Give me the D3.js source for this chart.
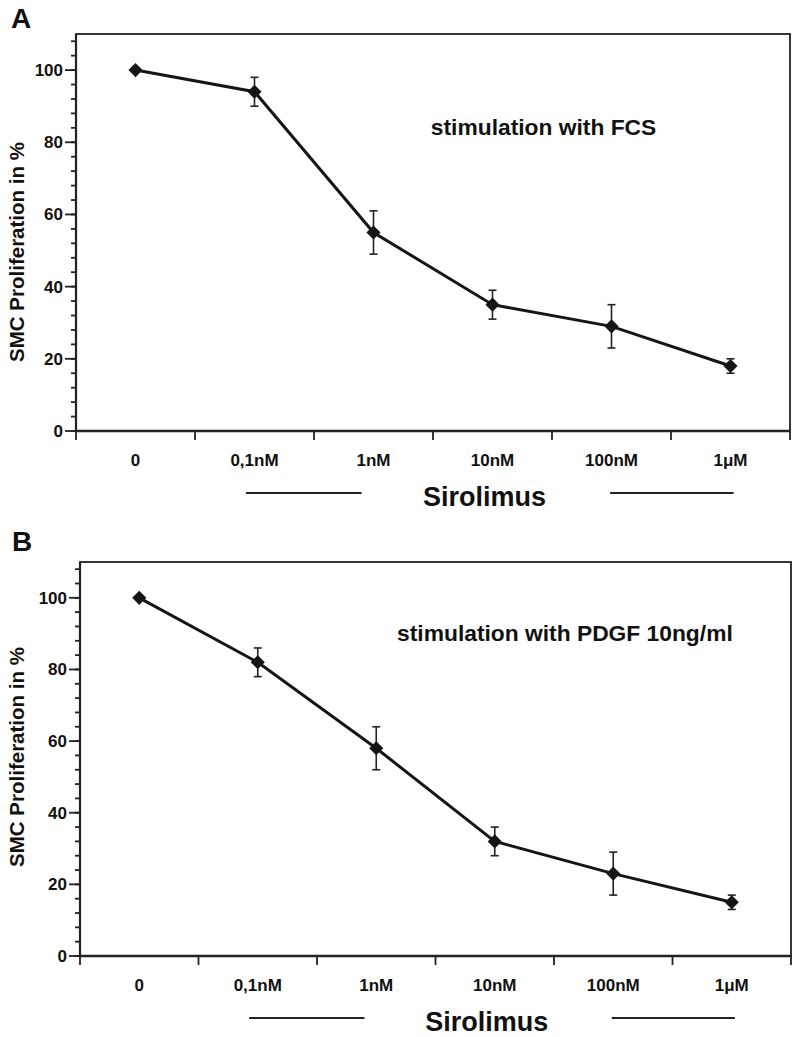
<!DOCTYPE html>
<html>
<head>
<meta charset="utf-8">
<script src="https://cdn.jsdelivr.net/npm/d3@7"></script>
<style>
  body { margin: 0; background: #fff; }
  text { font-family: "Liberation Sans", Arial, Helvetica, sans-serif; font-weight: bold; fill: #111; }
</style>
</head>
<body>
<div id="chart"></div>
<script>
// Sirolimus doses (x categories)
const doses = ["0", "0,1nM", "1nM", "10nM", "100nM", "1\u03bcM"];

// Panel A: stimulation with FCS
const fcsMean = [100, 94, 55, 35, 29, 18];
const fcsErr = [0, 4, 6, 4, 6, 2];

// Panel B: stimulation with PDGF 10ng/ml
const pdgfMean = [100, 82, 58, 32, 23, 15];
const pdgfErr = [0, 4, 6, 4, 6, 2];

const yMajorTicks = [0, 20, 40, 60, 80, 100];
const yMinorTicks = d3.range(0, 110, 4);

const width = 800, height = 1037;
const svg = d3.select("#chart").append("svg")
    .attr("width", width)
    .attr("height", height);

function drawPanel(opt) {
    const x = d3.scaleBand().domain(doses).range([opt.left, opt.right]);
    const y = d3.scaleLinear().domain([0, 110]).range([opt.bottom, opt.top]);
    const g = svg.append("g");

    // panel letter
    g.append("text")
        .attr("x", opt.letterX)
        .attr("y", opt.letterY)
        .style("font-size", "28px")
        .text(opt.letter);

    // frame
    g.append("rect")
        .attr("x", opt.left).attr("y", opt.top)
        .attr("width", opt.right - opt.left)
        .attr("height", opt.bottom - opt.top)
        .attr("fill", "none")
        .attr("stroke", "#222")
        .attr("stroke-width", 1.8);
    g.append("line")
        .attr("x1", opt.left).attr("x2", opt.right)
        .attr("y1", opt.bottom).attr("y2", opt.bottom)
        .attr("stroke", "#222").attr("stroke-width", 2.5);
    g.append("line")
        .attr("x1", opt.left).attr("x2", opt.left)
        .attr("y1", opt.top).attr("y2", opt.bottom)
        .attr("stroke", "#222").attr("stroke-width", 2.2);

    // y minor ticks
    g.selectAll(".ymin").data(yMinorTicks).enter().append("line")
        .attr("x1", opt.left - 5).attr("x2", opt.left)
        .attr("y1", d => y(d)).attr("y2", d => y(d))
        .attr("stroke", "#222").attr("stroke-width", 1.8);
    // y major ticks + labels
    g.selectAll(".ymaj").data(yMajorTicks).enter().append("line")
        .attr("x1", opt.left - 11).attr("x2", opt.left)
        .attr("y1", d => y(d)).attr("y2", d => y(d))
        .attr("stroke", "#222").attr("stroke-width", 1.8);
    g.selectAll(".ylab").data(yMajorTicks).enter().append("text")
        .attr("x", opt.left - 13)
        .attr("y", d => y(d) + 6)
        .attr("text-anchor", "end")
        .style("font-size", "17px")
        .text(d => d);

    // y title
    g.append("text")
        .attr("transform", `translate(24,${opt.yTitleY}) rotate(-90)`)
        .attr("text-anchor", "middle")
        .style("font-size", "20.5px")
        .text("SMC Proliferation in %");

    // x ticks at band edges
    const edges = doses.map(d => x(d)).concat([opt.right]);
    g.selectAll(".xt").data(edges).enter().append("line")
        .attr("x1", d => d).attr("x2", d => d)
        .attr("y1", opt.bottom).attr("y2", opt.bottom + 9)
        .attr("stroke", "#222").attr("stroke-width", 1.8);
    g.selectAll(".xlab").data(doses).enter().append("text")
        .attr("x", d => x(d) + x.bandwidth() / 2)
        .attr("y", opt.bottom + 35)
        .attr("text-anchor", "middle")
        .style("font-size", "17px")
        .text(d => d);

    // x title with side bars
    const pw = opt.right - opt.left;
    g.append("text")
        .attr("x", opt.left + pw * 0.572)
        .attr("y", opt.bottom + 75)
        .attr("text-anchor", "middle")
        .style("font-size", "27px")
        .text("Sirolimus");
    [[0.238, 0.400], [0.748, 0.921]].forEach(b => {
        g.append("line")
            .attr("x1", opt.left + pw * b[0]).attr("x2", opt.left + pw * b[1])
            .attr("y1", opt.bottom + 62).attr("y2", opt.bottom + 62)
            .attr("stroke", "#222").attr("stroke-width", 2.2);
    });

    // annotation
    g.append("text")
        .attr("x", opt.left + pw * opt.noteX)
        .attr("y", y(opt.noteY))
        .style("font-size", "22.8px")
        .text(opt.note);

    const pts = doses.map((d, i) => ({ dose: d, m: opt.mean[i], e: opt.err[i] }));
    const cx = d => x(d.dose) + x.bandwidth() / 2;

    // error bars
    const eb = g.selectAll(".eb").data(pts.filter(p => p.e > 0)).enter().append("g");
    eb.append("line")
        .attr("x1", cx).attr("x2", cx)
        .attr("y1", d => y(d.m - d.e)).attr("y2", d => y(d.m + d.e))
        .attr("stroke", "#222").attr("stroke-width", 1.6);
    [-1, 1].forEach(s => {
        eb.append("line")
            .attr("x1", d => cx(d) - 4).attr("x2", d => cx(d) + 4)
            .attr("y1", d => y(d.m + s * d.e)).attr("y2", d => y(d.m + s * d.e))
            .attr("stroke", "#222").attr("stroke-width", 1.6);
    });

    // line
    g.append("path")
        .datum(pts)
        .attr("d", d3.line().x(cx).y(d => y(d.m)))
        .attr("fill", "none")
        .attr("stroke", "#151515")
        .attr("stroke-width", 3);

    // diamond markers
    g.selectAll(".mk").data(pts).enter().append("path")
        .attr("d", d3.symbol().type(d3.symbolSquare).size(100))
        .attr("transform", d => `translate(${cx(d)},${y(d.m)}) rotate(45)`)
        .attr("fill", "#151515");
}

drawPanel({
    letter: "A", letterX: 11, letterY: 28,
    left: 76, right: 790, top: 34, bottom: 431,
    yTitleY: 252,
    mean: fcsMean, err: fcsErr,
    note: "stimulation with FCS", noteX: 0.497, noteY: 82
});

drawPanel({
    letter: "B", letterX: 12, letterY: 551,
    left: 80, right: 791, top: 562, bottom: 956,
    yTitleY: 757,
    mean: pdgfMean, err: pdgfErr,
    note: "stimulation with PDGF 10ng/ml", noteX: 0.446, noteY: 88
});
</script>
</body>
</html>
